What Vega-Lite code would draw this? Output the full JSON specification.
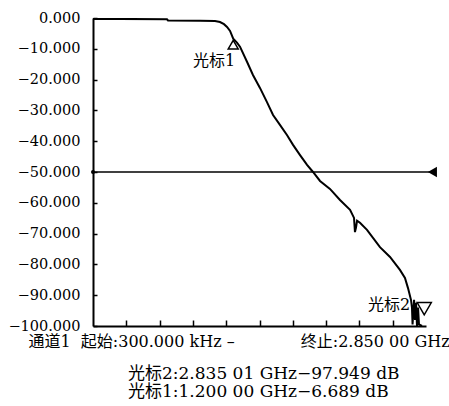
{
  "$schema": "https://vega.github.io/schema/vega-lite/v6.json",
  "autosize": "none",
  "width": 333,
  "height": 308,
  "padding": {"left": 93, "top": 18, "right": 23, "bottom": 80},
  "background": "white",
  "config": {
    "view": {"stroke": null},
    "font": "DejaVu Serif, Noto Sans CJK SC",
    "axis": {"grid": false, "domainColor": "black", "domainWidth": 2, "tickColor": "black", "labelColor": "black", "titleColor": "black"}
  },
  "title": {
    "text": ["光标2:2.835 01 GHz−97.949 dB", "光标1:1.200 00 GHz−6.689 dB"],
    "orient": "bottom",
    "anchor": "start",
    "frame": "group",
    "dx": 35,
    "offset": 17,
    "fontSize": 17,
    "fontWeight": "normal",
    "lineHeight": 18,
    "color": "black",
    "font": "DejaVu Serif, Noto Sans CJK SC"
  },
  "datasets": {
    "trace": [
      {"f": 0.0003, "db": -0.3}, {"f": 0.231, "db": -0.3}, {"f": 0.633, "db": -0.4},
      {"f": 0.642, "db": -0.8}, {"f": 0.916, "db": -0.9}, {"f": 1.044, "db": -1.0},
      {"f": 1.087, "db": -1.3}, {"f": 1.121, "db": -2.0}, {"f": 1.147, "db": -2.9},
      {"f": 1.173, "db": -4.2}, {"f": 1.2, "db": -6.7}, {"f": 1.232, "db": -8.0},
      {"f": 1.258, "db": -9.3}, {"f": 1.318, "db": -14.2}, {"f": 1.369, "db": -18.5},
      {"f": 1.429, "db": -22.7}, {"f": 1.489, "db": -27.3}, {"f": 1.541, "db": -31.5},
      {"f": 1.6, "db": -34.7}, {"f": 1.66, "db": -38.0}, {"f": 1.712, "db": -41.2},
      {"f": 1.772, "db": -44.5}, {"f": 1.832, "db": -47.7}, {"f": 1.883, "db": -50.0},
      {"f": 1.943, "db": -52.9}, {"f": 2.028, "db": -55.5}, {"f": 2.114, "db": -59.1},
      {"f": 2.2, "db": -62.3}, {"f": 2.234, "db": -64.9}, {"f": 2.242, "db": -69.5},
      {"f": 2.251, "db": -68.0}, {"f": 2.26, "db": -65.8}, {"f": 2.285, "db": -66.5},
      {"f": 2.345, "db": -68.8}, {"f": 2.456, "db": -74.4}, {"f": 2.542, "db": -77.6},
      {"f": 2.627, "db": -81.8}, {"f": 2.67, "db": -84.4}, {"f": 2.696, "db": -87.7},
      {"f": 2.722, "db": -91.6}, {"f": 2.73, "db": -94.0}, {"f": 2.735, "db": -99.5},
      {"f": 2.748, "db": -91.5}, {"f": 2.756, "db": -98.0}, {"f": 2.765, "db": -92.5},
      {"f": 2.773, "db": -100.0}, {"f": 2.782, "db": -94.0}, {"f": 2.79, "db": -99.5},
      {"f": 2.816, "db": -100.0}
    ],
    "markers": [
      {"f": 1.2, "db": -6.689, "name": "光标1"},
      {"f": 2.835, "db": -97.949, "name": "光标2"}
    ],
    "ref": [
      {"f": 0, "db": -50, "end": "start"},
      {"f": 2.905, "db": -50, "end": "stop"}
    ]
  },
  "encoding": {
    "x": {
      "field": "f", "type": "quantitative",
      "scale": {"domain": [0, 2.85], "nice": false, "zero": false},
      "axis": {
        "values": [0.285, 0.57, 0.855, 1.14, 1.425, 1.71, 1.995, 2.28, 2.565],
        "labels": false,
        "tickSize": -6,
        "tickWidth": 1.5,
        "title": "通道1\u00a0\u00a0起始:300.000 kHz\u00a0–\u00a0\u00a0\u00a0\u00a0\u00a0\u00a0\u00a0\u00a0\u00a0\u00a0\u00a0\u00a0\u00a0终止:2.850 00 GHz",
        "titleFont": "DejaVu Serif, Noto Sans CJK SC",
        "titleFontSize": 16,
        "titleFontWeight": "normal",
        "titleAlign": "left",
        "titleBaseline": "alphabetic",
        "titleX": -65,
        "titleY": 20
      }
    },
    "y": {
      "field": "db", "type": "quantitative",
      "scale": {"domain": [-100, 0], "nice": false},
      "axis": {
        "values": [0, -10, -20, -30, -40, -50, -60, -70, -80, -90, -100],
        "labelExpr": "format(datum.value, '.3f')",
        "labelFont": "DejaVu Serif",
        "labelFontSize": 14.5,
        "labelOverlap": false,
        "labelBound": false,
        "tickSize": -4,
        "tickWidth": 1.5,
        "labelPadding": 17,
        "title": null
      }
    }
  },
  "layer": [
    {
      "data": {"name": "trace"},
      "mark": {"type": "line", "color": "black", "strokeWidth": 2, "clip": true}
    },
    {
      "data": {"name": "ref"},
      "mark": {"type": "line", "color": "black", "strokeWidth": 1.5}
    },
    {
      "data": {"name": "ref"},
      "transform": [{"filter": "datum.end === 'start'"}],
      "mark": {"type": "point", "shape": "circle", "filled": true, "color": "black", "size": 16, "opacity": 1}
    },
    {
      "data": {"name": "ref"},
      "transform": [{"filter": "datum.end === 'stop'"}],
      "mark": {"type": "point", "shape": "triangle-left", "filled": true, "color": "black", "size": 110, "opacity": 1}
    },
    {
      "data": {"name": "markers"},
      "transform": [{"filter": "datum.name === '光标1'"}],
      "layer": [
        {
          "mark": {"type": "point", "shape": "triangle-up", "filled": false, "color": "black", "strokeWidth": 1.5, "size": 100, "opacity": 1, "yOffset": 6}
        },
        {
          "mark": {"type": "text", "align": "right", "baseline": "alphabetic", "dx": 2, "dy": 27, "fontSize": 16, "color": "black", "font": "DejaVu Serif, Noto Sans CJK SC"},
          "encoding": {"text": {"field": "name"}}
        }
      ]
    },
    {
      "data": {"name": "markers"},
      "transform": [{"filter": "datum.name === '光标2'"}],
      "layer": [
        {
          "mark": {"type": "point", "shape": "triangle-down", "filled": false, "color": "black", "strokeWidth": 1.5, "size": 200, "opacity": 1, "yOffset": -11}
        },
        {
          "mark": {"type": "text", "align": "right", "baseline": "alphabetic", "dx": -14, "dy": -10, "fontSize": 16, "color": "black", "font": "DejaVu Serif, Noto Sans CJK SC"},
          "encoding": {"text": {"field": "name"}}
        }
      ]
    }
  ]
}
